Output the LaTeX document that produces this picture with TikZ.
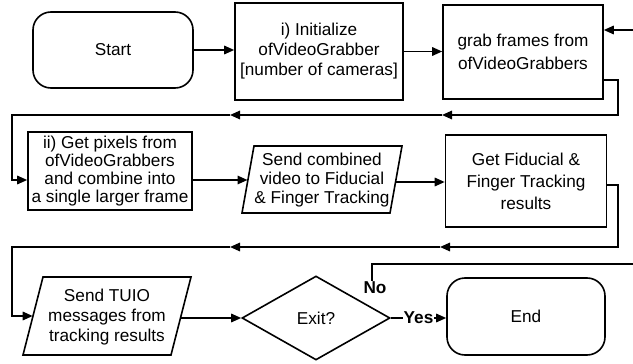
\documentclass[tikz,border=0pt]{standalone}
\usepackage{fontspec}
\setmainfont{Liberation Sans}
\usetikzlibrary{arrows.meta,shapes.geometric}
\begin{document}
\begin{tikzpicture}[x=1pt,y=-1pt,
  every node/.style={font=\fontsize{17.2}{19}\selectfont, align=center, inner sep=0pt},
  wide/.style={font=\fontsize{17.2}{23}\selectfont},
  ln/.style={line width=1.6pt},
  arr/.style={ln, -{Triangle[length=10pt,width=8.5pt]}},
  boxst/.style={draw, ln},
  termst/.style={draw, ln, rounded corners=18pt},
  lbl/.style={font=\fontsize{17.2}{19}\selectfont\bfseries, fill=white, inner sep=1pt}]
\useasboundingbox (0,0) rectangle (633,364);

% nodes
\node[termst, minimum width=160pt, minimum height=76pt] (start) at (113,50) {Start};
\node[boxst, minimum width=168pt, minimum height=97pt, font=\fontsize{17.2}{20}\selectfont] (init) at (319,51.5) {i) Initialize\\ofVideoGrabber\\{[}number of cameras{]}};
\node[boxst, wide, minimum width=160pt, minimum height=94pt] (grab) at (523,52) {grab frames from\\ofVideoGrabbers};
\node[boxst, minimum width=164pt, minimum height=78pt, font=\fontsize{17.2}{18}\selectfont] (pix) at (110,171) {ii) Get pixels from\\ofVideoGrabbers\\and combine into\\a single larger frame};
\node (send) at (322,180) {Send combined\\video to Fiducial\\\& Finger Tracking};
\draw[ln] (254,146) coordinate (p1tl) -- (402,146) coordinate (p1tr) -- (390,213) coordinate (p1br) -- (242,213) coordinate (p1bl) -- cycle;
\node[boxst, minimum width=161pt, minimum height=92pt, font=\fontsize{17.2}{22}\selectfont] (fid) at (526,181) {Get Fiducial \&\\Finger Tracking\\results};
\node[font=\fontsize{17.2}{20}\selectfont] (tuio) at (107,317) {Send TUIO\\messages from\\tracking results};
\draw[ln] (43,277) coordinate (p2tl) -- (191,277) coordinate (p2tr) -- (171,355) coordinate (p2br) -- (23,355) coordinate (p2bl) -- cycle;
\node[draw, ln, diamond, minimum width=148pt, minimum height=84pt] (exit) at (316,318) {Exit?};
\node[termst, minimum width=158pt, minimum height=77pt] (end) at (526,316.5) {End};
\node[lbl, fill=none] (no) at (375,288) {No};

% helper coordinates
\coordinate (inR) at (633,30);
\coordinate (r1a) at (618,80);
\coordinate (r1b) at (618,115);
\coordinate (m1a) at (442,115);
\coordinate (m1b) at (230,115);
\coordinate (l1a) at (12,115);
\coordinate (l1b) at (12,180);
\coordinate (p1L) at (247.5,180);
\coordinate (p1R) at (395.5,182);
\coordinate (r2a) at (618,185);
\coordinate (r2b) at (618,247);
\coordinate (m2a) at (440,247);
\coordinate (m2b) at (230,247);
\coordinate (l2a) at (12,247);
\coordinate (l2b) at (12,316);
\coordinate (p2L) at (32.7,316);
\coordinate (p2R) at (180.5,318);
\coordinate (n1) at (372,264);
\coordinate (n2) at (633,264);

% connectors
\draw[arr] (start.east) -- (start.east -| init.west);
\draw[arr] (init.east) -- (init.east -| grab.west);
\draw[arr] (inR) -- (inR -| grab.east);
\draw[arr] ([yshift=-28pt]grab.east) -- (r1a) -- (r1b) -- (m1a);
\draw[arr] (m1a) -- (m1b);
\draw[arr] (m1b) -- (l1a) -- (l1b) -- (l1b -| pix.west);
\draw[arr] (pix.east |- p1L) -- (p1L);
\draw[arr] (p1R) -- (p1R -| fid.west);
\draw[arr] (fid.east |- r2a) -- (r2a) -- (r2b) -- (m2a);
\draw[arr] (m2a) -- (m2b);
\draw[arr] (m2b) -- (l2a) -- (l2b) -- (p2L);
\draw[arr] (p2R) -- (exit.west);
\draw[arr] (exit.east) -- node[lbl] {Yes} (exit.east -| end.west);
\draw[ln] (no.north -| n1) -- (n1) -- (n2);
\end{tikzpicture}
\end{document}
